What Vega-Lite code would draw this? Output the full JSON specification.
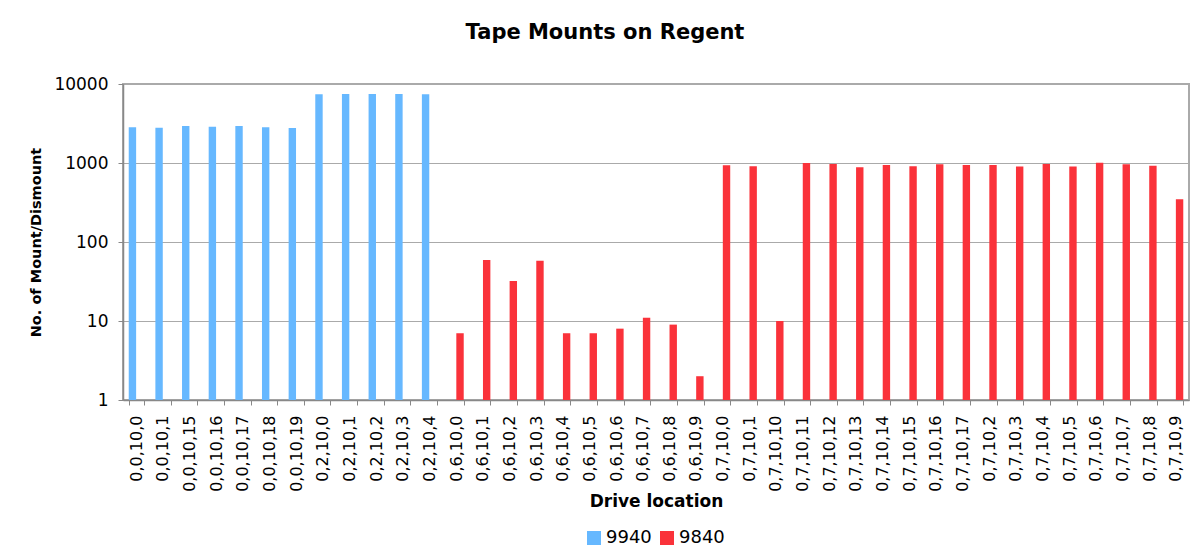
{
  "$schema": "https://vega.github.io/schema/vega-lite/v6.json",
  "autosize": {"type": "none"},
  "width": 1066,
  "height": 316,
  "padding": {"left": 123, "top": 84, "right": 11, "bottom": 150},
  "background": "white",
  "title": {
    "text": "Tape Mounts on Regent",
    "font": "DejaVu Sans",
    "fontSize": 21,
    "fontWeight": "bold",
    "color": "black",
    "anchor": "middle",
    "dx": -51,
    "offset": 32
  },
  "data": {
    "values": [
      {"loc": "0,0,10,0", "type": "9940", "n": 2830},
      {"loc": "0,0,10,1", "type": "9940", "n": 2800},
      {"loc": "0,0,10,15", "type": "9940", "n": 2940},
      {"loc": "0,0,10,16", "type": "9940", "n": 2870},
      {"loc": "0,0,10,17", "type": "9940", "n": 2940},
      {"loc": "0,0,10,18", "type": "9940", "n": 2830},
      {"loc": "0,0,10,19", "type": "9940", "n": 2770},
      {"loc": "0,2,10,0", "type": "9940", "n": 7400},
      {"loc": "0,2,10,1", "type": "9940", "n": 7470},
      {"loc": "0,2,10,2", "type": "9940", "n": 7470},
      {"loc": "0,2,10,3", "type": "9940", "n": 7470},
      {"loc": "0,2,10,4", "type": "9940", "n": 7400},
      {"loc": "0,6,10,0", "type": "9840", "n": 7},
      {"loc": "0,6,10,1", "type": "9840", "n": 59},
      {"loc": "0,6,10,2", "type": "9840", "n": 32},
      {"loc": "0,6,10,3", "type": "9840", "n": 58},
      {"loc": "0,6,10,4", "type": "9840", "n": 7},
      {"loc": "0,6,10,5", "type": "9840", "n": 7},
      {"loc": "0,6,10,6", "type": "9840", "n": 8},
      {"loc": "0,6,10,7", "type": "9840", "n": 11},
      {"loc": "0,6,10,8", "type": "9840", "n": 9},
      {"loc": "0,6,10,9", "type": "9840", "n": 2},
      {"loc": "0,7,10,0", "type": "9840", "n": 935},
      {"loc": "0,7,10,1", "type": "9840", "n": 908},
      {"loc": "0,7,10,10", "type": "9840", "n": 10},
      {"loc": "0,7,10,11", "type": "9840", "n": 1000},
      {"loc": "0,7,10,12", "type": "9840", "n": 971},
      {"loc": "0,7,10,13", "type": "9840", "n": 881},
      {"loc": "0,7,10,14", "type": "9840", "n": 944},
      {"loc": "0,7,10,15", "type": "9840", "n": 908},
      {"loc": "0,7,10,16", "type": "9840", "n": 962},
      {"loc": "0,7,10,17", "type": "9840", "n": 944},
      {"loc": "0,7,10,2", "type": "9840", "n": 944},
      {"loc": "0,7,10,3", "type": "9840", "n": 900},
      {"loc": "0,7,10,4", "type": "9840", "n": 971},
      {"loc": "0,7,10,5", "type": "9840", "n": 900},
      {"loc": "0,7,10,6", "type": "9840", "n": 1010},
      {"loc": "0,7,10,7", "type": "9840", "n": 962},
      {"loc": "0,7,10,8", "type": "9840", "n": 925},
      {"loc": "0,7,10,9", "type": "9840", "n": 347}
    ]
  },
  "mark": {"type": "bar"},
  "encoding": {
    "x": {
      "field": "loc",
      "type": "nominal",
      "sort": null,
      "scale": {"paddingInner": 0.43, "paddingOuter": 0.215},
      "axis": {
        "title": "Drive location",
        "labelAngle": -90,
        "labelFontSize": 16,
        "labelPadding": 10,
        "tickBand": "extent",
        "tickSize": 5,
        "titlePadding": 2
      }
    },
    "xOffset": {
      "field": "type",
      "type": "nominal",
      "sort": ["9940", "9840"],
      "scale": {"domain": ["9940", "9840"], "paddingInner": 0.05}
    },
    "y": {
      "field": "n",
      "type": "quantitative",
      "stack": null,
      "scale": {"type": "log", "domain": [1, 10000], "nice": false},
      "axis": {
        "title": "No. of Mount/Dismount",
        "values": [1, 10, 100, 1000, 10000],
        "format": "d",
        "grid": true,
        "labelFontSize": 17,
        "labelPadding": 10,
        "tickSize": 5,
        "titlePadding": 10
      }
    },
    "color": {
      "field": "type",
      "type": "nominal",
      "sort": ["9940", "9840"],
      "scale": {"domain": ["9940", "9840"], "range": ["#66b8ff", "#fa323a"]},
      "legend": {
        "title": null,
        "orient": "none",
        "direction": "horizontal",
        "legendX": 462,
        "legendY": 445,
        "symbolType": "square",
        "symbolSize": 196,
        "symbolStrokeWidth": 0,
        "labelFontSize": 18,
        "columnPadding": 6,
        "labelOffset": 3
      }
    }
  },
  "config": {
    "font": "DejaVu Sans",
    "view": {"stroke": "#aaaaaa", "strokeWidth": 2},
    "axis": {
      "labelColor": "black",
      "titleColor": "black",
      "titleFont": "DejaVu Sans",
      "labelFont": "DejaVu Sans",
      "titleFontSize": 14.5,
      "titleFontWeight": "bold",
      "domainColor": "#888888",
      "domainWidth": 1.5,
      "tickColor": "#888888",
      "gridColor": "#aaaaaa",
      "gridWidth": 1
    },
    "axisX": {"titleFontSize": 17},
    "legend": {"labelColor": "black", "labelFont": "DejaVu Sans"}
  }
}
